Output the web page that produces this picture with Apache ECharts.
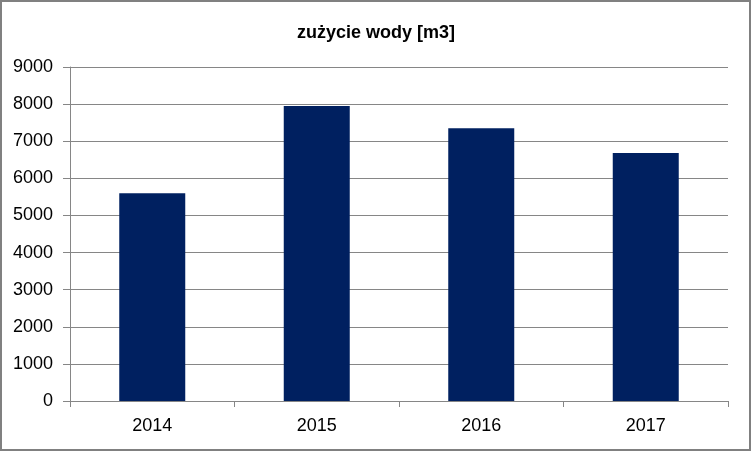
<!DOCTYPE html>
<html><head><meta charset="utf-8">
<script src="https://cdn.jsdelivr.net/npm/echarts@6/dist/echarts.min.js"></script>
<style>
html,body{margin:0;padding:0;background:#fff;}
#frame{position:absolute;left:0;top:0;width:747px;height:447px;border:2.5px solid #808080;}
#c{width:752px;height:452px;position:absolute;left:0;top:0;}
</style></head>
<body><div id="c"></div><div id="frame"></div>
<script>
const categories = ['2014', '2015', '2016', '2017'];
const values = [5600, 7950, 7350, 6680];
const titleText = 'zużycie wody [m3]';

const chart = echarts.init(document.getElementById('c'));
chart.setOption({
  animation: false,
  backgroundColor: '#fff',
  title: {
    text: titleText, left: 'center', top: 19,
    textStyle: { fontFamily: 'Liberation Sans', fontSize: 18, fontWeight: 'bold', color: '#000' }
  },
  grid: { left: 70, right: 24, top: 67, bottom: 51, containLabel: false },
  xAxis: {
    type: 'category', data: categories,
    axisLine: { lineStyle: { color: '#868686', width: 1 } },
    axisTick: { show: true, length: 6, lineStyle: { color: '#868686' } },
    axisLabel: { fontFamily: 'Liberation Sans', fontSize: 18, color: '#000', margin: 16 }
  },
  yAxis: {
    type: 'value', min: 0, max: 9000, interval: 1000,
    axisLine: { show: true, lineStyle: { color: '#868686', width: 1 } },
    axisTick: { show: true, length: 7, lineStyle: { color: '#868686' } },
    axisLabel: { fontFamily: 'Liberation Sans', fontSize: 18, color: '#000', margin: 17,
      formatter: v => String(v) },
    splitLine: { lineStyle: { color: '#868686', width: 1 } }
  },
  series: [{
    type: 'bar', data: values, barWidth: 66,
    itemStyle: { color: '#002060' }
  }]
});
</script></body></html>
